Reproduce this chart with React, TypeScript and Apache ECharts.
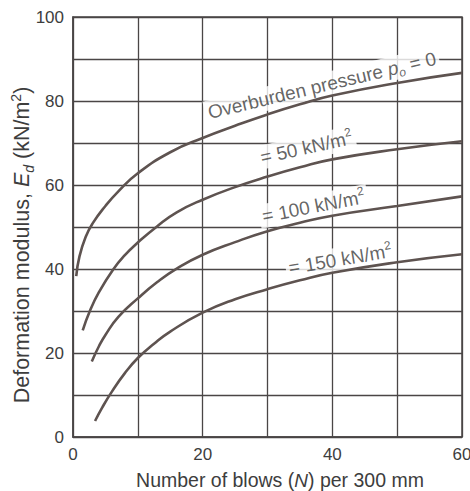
import React, { useEffect, useRef } from "react";
import * as echarts from "echarts";

// Curves: [N, Ed]
const curveP0 = [[0.5, 38.3], [1, 43], [2, 47.8], [3, 50.8], [5, 55], [7, 58.5], [10, 62.8], [15, 67.8], [20, 71.2], [25, 74.1], [30, 76.8], [35, 79.2], [40, 81.3], [50, 84.3], [60, 86.7]];
const curveP50 = [[1.5, 25.4], [2.6, 30], [4, 34.5], [6.2, 39.9], [8, 43.3], [10, 46.3], [13, 50.2], [16, 53.5], [20, 56.5], [25, 59.5], [30, 62], [35, 64.2], [40, 66.1], [50, 68.5], [60, 70.4]];
const curveP100 = [[2.9, 18], [4, 21.6], [5, 24.3], [7, 28.6], [10, 33], [13, 36.9], [16, 40.1], [20, 43.4], [25, 46.4], [30, 49], [35, 51], [40, 52.7], [50, 55], [60, 57.3]];
const curveP150 = [[3.4, 3.8], [4.5, 7], [6, 10.8], [8, 15.2], [10, 18.8], [12.5, 22.2], [15, 25.1], [20, 29.6], [25, 32.8], [30, 35.2], [35, 37.3], [40, 39.1], [50, 41.6], [60, 43.5]];

const xLabelValues = [0, 20, 40, 60];
const yLabelValues = [0, 20, 40, 60, 80, 100];

const labelTexts = [
  "{t|Overburden pressure }{i|p}{sub|o}{t| = 0}",
  "{t|= 50 kN/m}{sup|2}",
  "{t|= 100 kN/m}{sup|2}",
  "{t|= 150 kN/m}{sup|2}",
];
const labelX = [38.4, 36, 37.1, 41.2];
const labelY = [83.7, 68.9, 54.9, 42.3];
const labelRotate = [13.5, 12.5, 11, 9.5];

const xTitle = "Number of blows ({i|N}) per 300 mm";
const yTitle = "{y|Deformation modulus, }{yi|E}{ysub|d}{y| (kN/m}{ysup|2}{y|)}";

const FONT = "'Liberation Sans', Arial, Helvetica, sans-serif";
const TEXT = "#3d3d3d";
const GRID = "#4a4646";
const CURVE = "#5e5350";

const rich = {
  t: { fontSize: 19, fontFamily: FONT, color: TEXT, lineHeight: 24, verticalAlign: "middle" },
  i: { fontSize: 19, fontFamily: FONT, color: TEXT, fontStyle: "italic", lineHeight: 24, verticalAlign: "middle" },
  sub: { fontSize: 12, fontFamily: FONT, color: TEXT, fontStyle: "italic", lineHeight: 13, verticalAlign: "bottom" },
  sup: { fontSize: 12, fontFamily: FONT, color: TEXT, lineHeight: 13, verticalAlign: "top" },
  y: { fontSize: 21.5, fontFamily: FONT, color: TEXT, lineHeight: 27, verticalAlign: "middle" },
  yi: { fontSize: 21.5, fontFamily: FONT, color: TEXT, fontStyle: "italic", lineHeight: 27, verticalAlign: "middle" },
  ysub: { fontSize: 14, fontFamily: FONT, color: TEXT, fontStyle: "italic", lineHeight: 15, verticalAlign: "bottom" },
  ysup: { fontSize: 14, fontFamily: FONT, color: TEXT, lineHeight: 15, verticalAlign: "top" },
};

export default function App() {
  const ref = useRef<HTMLDivElement>(null);
  useEffect(() => {
    if (!ref.current) return;
    const chart = echarts.init(ref.current, null, { renderer: "svg" });
    const curves = [curveP0, curveP50, curveP100, curveP150];
    const lineSeries = curves.map((c) => ({
      type: "line",
      data: c,
      smooth: 0.5,
      symbol: "none",
      z: 5,
      lineStyle: { color: CURVE, width: 2.6 },
    }));
    const labelSeries = labelTexts.map((txt, k) => ({
      type: "scatter",
      data: [[labelX[k], labelY[k]]],
      symbolSize: 0,
      z: 2,
      silent: true,
      label: {
        show: true,
        position: "inside",
        align: "center",
        verticalAlign: "middle",
        rotate: labelRotate[k],
        formatter: () => txt,
        backgroundColor: "#ffffff",
        padding: [0, 3],
        rich,
      },
    }));
    chart.setOption({
      animation: false,
      backgroundColor: "#ffffff",
      grid: {
        left: 73,
        right: 8,
        top: 17,
        bottom: 54,
        show: true,
        borderColor: GRID,
        borderWidth: 1.5,
        outerBoundsMode: "none",
      },
      xAxis: {
        type: "value",
        min: 0,
        max: 60,
        interval: 10,
        axisLine: { show: true, lineStyle: { color: GRID, width: 1.5 } },
        axisTick: { show: false },
        splitLine: { show: true, lineStyle: { color: GRID, width: 1.3 } },
        axisLabel: {
          margin: 9,
          fontSize: 17,
          fontFamily: FONT,
          color: TEXT,
          formatter: (v: number) => (xLabelValues.includes(v) ? String(v) : ""),
        },
      },
      yAxis: {
        type: "value",
        min: 0,
        max: 100,
        interval: 10,
        axisLine: { show: true, lineStyle: { color: GRID, width: 1.5 } },
        axisTick: { show: false },
        splitLine: { show: true, lineStyle: { color: GRID, width: 1.3 } },
        axisLabel: {
          margin: 9,
          fontSize: 17,
          fontFamily: FONT,
          color: TEXT,
          formatter: (v: number) => (yLabelValues.includes(v) ? String(v) : ""),
        },
      },
      graphic: [
        {
          type: "text",
          x: 280,
          y: 480,
          style: {
            text: xTitle,
            fontSize: 19.5,
            fontFamily: FONT,
            fill: TEXT,
            align: "center",
            verticalAlign: "middle",
            rich,
          },
        },
        {
          type: "text",
          x: 22,
          y: 245,
          rotation: Math.PI / 2,
          style: {
            text: yTitle,
            fontSize: 21.5,
            fontFamily: FONT,
            fill: TEXT,
            align: "center",
            verticalAlign: "middle",
            rich,
          },
        },
      ],
      series: [...labelSeries, ...lineSeries],
    });
    return () => chart.dispose();
  }, []);
  return <div ref={ref} style={{ position: "fixed", left: 0, top: 0, width: 470, height: 491 }} />;
}
